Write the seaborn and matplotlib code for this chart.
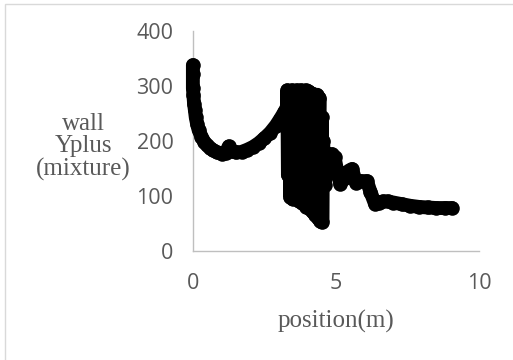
import seaborn as sns
import matplotlib.pyplot as plt
import pandas as pd
from matplotlib.patches import Rectangle

# valores (posicion en m, wall Yplus de la mezcla)
pos_curva = [0.0, 0.0, 0.0, 0.02, 0.04, 0.07, 0.1, 0.15, 0.2, 0.3, 0.4, 0.5, 0.6, 0.7,
             0.85, 1.0, 1.15, 1.25, 1.35, 1.5, 1.7, 1.9, 2.1, 2.3, 2.5, 2.7, 2.9, 3.05,
             3.2, 3.3]
yplus_curva = [338, 322, 296, 283, 268, 256, 243, 230, 220, 208, 198, 192, 187, 183,
               179, 177, 178, 190, 182, 179, 180, 184, 189, 196, 205, 215, 228, 240,
               253, 263]

# zona oscilante entre 3.3 y 4.6 m
pos_cluster = [3.3, 3.32, 3.38, 3.4, 3.46, 3.48, 3.54, 3.56, 3.62, 3.64, 3.7, 3.72,
               3.78, 3.8, 3.86, 3.88, 3.94, 3.96, 4.02, 4.04, 4.1, 4.12, 4.18, 4.2,
               4.26, 4.28, 4.34, 4.36, 4.42, 4.44, 4.5, 4.52, 4.55]
yplus_cluster = [292, 138, 288, 98, 292, 94, 290, 98, 292, 94, 283, 90,
                 292, 88, 290, 85, 292, 80, 290, 78, 288, 75, 286, 70,
                 282, 65, 284, 60, 278, 55, 243, 52, 200]

pos_cola = [4.6, 4.7, 4.85, 4.95, 5.05, 5.15, 5.3, 5.45, 5.56, 5.7, 5.85, 6.08, 6.2,
            6.36, 6.5, 6.64, 6.8, 7.0, 7.3, 7.6, 7.9, 8.2, 8.5, 8.8, 9.05]
yplus_cola = [120, 158, 176, 170, 143, 122, 133, 146, 149, 124, 127, 127, 108,
              86, 88, 90, 90, 88, 85, 82, 80, 79, 78, 78, 78]

df = pd.DataFrame({
    'position': pos_curva + pos_cluster + pos_cola,
    'yplus': yplus_curva + yplus_cluster + yplus_cola,
})

sns.set_style('white')
fig = plt.figure(figsize=(5.13, 3.6), dpi=100)
ax = fig.add_axes([0.376, 0.303, 0.558, 0.611])

sns.lineplot(data=df, x='position', y='yplus', sort=False, estimator=None,
             color='black', linewidth=10, ax=ax, clip_on=False,
             solid_capstyle='round', solid_joinstyle='round')
sns.scatterplot(data=df, x='position', y='yplus', color='black', s=110,
                linewidth=0, ax=ax, clip_on=False)

ax.set_xlim(0, 10)
ax.set_ylim(0, 400)
ax.set_xticks([0, 5, 10])
ax.set_yticks([0, 100, 200, 300, 400])
for s in ['top', 'right']:
    ax.spines[s].set_visible(False)
for s in ['left', 'bottom']:
    ax.spines[s].set_color('#BFBFBF')
    ax.spines[s].set_linewidth(1.0)
    ax.spines[s].set_zorder(0)
ax.tick_params(length=0, labelsize=15.5, colors='#595959')
ax.tick_params(axis='y', pad=14)
ax.tick_params(axis='x', pad=16)
for lbl in ax.get_xticklabels() + ax.get_yticklabels():
    lbl.set_family('Open Sans')

ax.set_xlabel('position(m)', family='Liberation Serif', fontsize=18,
              color='#595959', labelpad=11)
ax.set_ylabel('')
fig.text(83 / 513, 1 - 147 / 360, 'wall\nYplus\n(mixture)', family='Liberation Serif',
         fontsize=18, color='#595959', ha='center', va='center', linespacing=1.0)

# borde del area del grafico
fig.patches.append(Rectangle((5 / 513, -0.1), 1.2, 1 - 4 / 360 + 0.1,
                             transform=fig.transFigure, fill=False,
                             edgecolor='#D9D9D9', linewidth=1.0))

fig.savefig('out.png', dpi=100)
